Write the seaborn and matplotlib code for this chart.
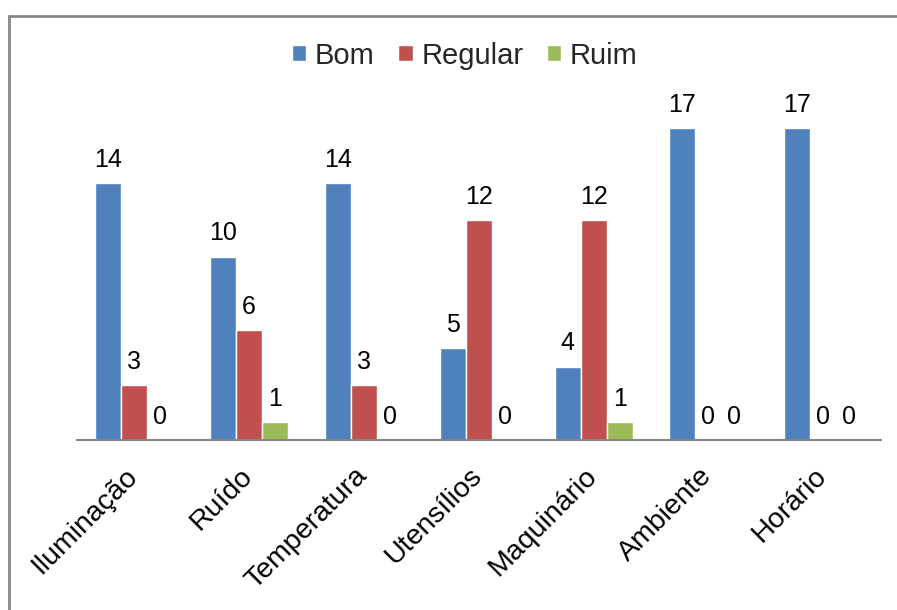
import pandas as pd
import matplotlib
matplotlib.use('Agg')
import matplotlib.pyplot as plt
import matplotlib.transforms as mtransforms
import seaborn as sns
from matplotlib.lines import Line2D

categories = ['Iluminação', 'Ruído', 'Temperatura', 'Utensílios', 'Maquinário', 'Ambiente', 'Horário']
bom = [14, 10, 14, 5, 4, 17, 17]
regular = [3, 6, 3, 12, 12, 0, 0]
ruim = [0, 1, 0, 0, 1, 0, 0]
series = ['Bom', 'Regular', 'Ruim']
colors = ['#4F81BD', '#C0504D', '#9BBB59']

df = pd.DataFrame({
    'Categoria': categories * 3,
    'Serie': ['Bom'] * 7 + ['Regular'] * 7 + ['Ruim'] * 7,
    'Valor': bom + regular + ruim,
})

sns.set_style('white')
plt.rcParams['font.family'] = ['Liberation Sans', 'DejaVu Sans']

fig = plt.figure(figsize=(8.97, 6.1), dpi=100)
ax = fig.add_axes([0.0858, 0.2787, 0.896, 0.6016])
sns.barplot(data=df, x='Categoria', y='Valor', hue='Serie', hue_order=series,
            palette=colors, width=0.68, gap=0, saturation=1, ax=ax, legend=True)

for cont in ax.containers:
    ax.bar_label(cont, fmt='%d', padding=8, fontsize=18, color='black')

ax.set_ylim(0, 20)
ax.set_xlim(-0.5, 6.5)
ax.set_xlabel('')
ax.set_ylabel('')
ax.set_yticks([])
ax.tick_params(axis='x', length=0, pad=12)
shift = mtransforms.ScaledTranslation(-0.10, -0.06, fig.dpi_scale_trans)
for lbl in ax.get_xticklabels():
    lbl.set_rotation(45)
    lbl.set_ha('right')
    lbl.set_rotation_mode('anchor')
    lbl.set_fontsize(20.5)
    lbl.set_color('black')
    lbl.set_transform(lbl.get_transform() + shift)
for s in ['left', 'right', 'top']:
    ax.spines[s].set_visible(False)
ax.spines['bottom'].set_color('#868686')
ax.spines['bottom'].set_linewidth(1.5)

handles, labels = ax.get_legend_handles_labels()
ax.legend_.remove()
fig.legend(handles, labels, loc='center', bbox_to_anchor=(0.518, 0.909), ncol=3,
           frameon=False, fontsize=21, handlelength=0.5, handleheight=0.5,
           handletextpad=0.3, columnspacing=0.8)

# outer chart border (top and left visible)
fig.add_artist(Line2D([9 / 897, 9 / 897], [0, 1 - 16 / 610], transform=fig.transFigure,
                      color='#868686', lw=2))
fig.add_artist(Line2D([9 / 897, 1], [1 - 16 / 610, 1 - 16 / 610], transform=fig.transFigure,
                      color='#868686', lw=2))

fig.savefig('out.png', dpi=100)
